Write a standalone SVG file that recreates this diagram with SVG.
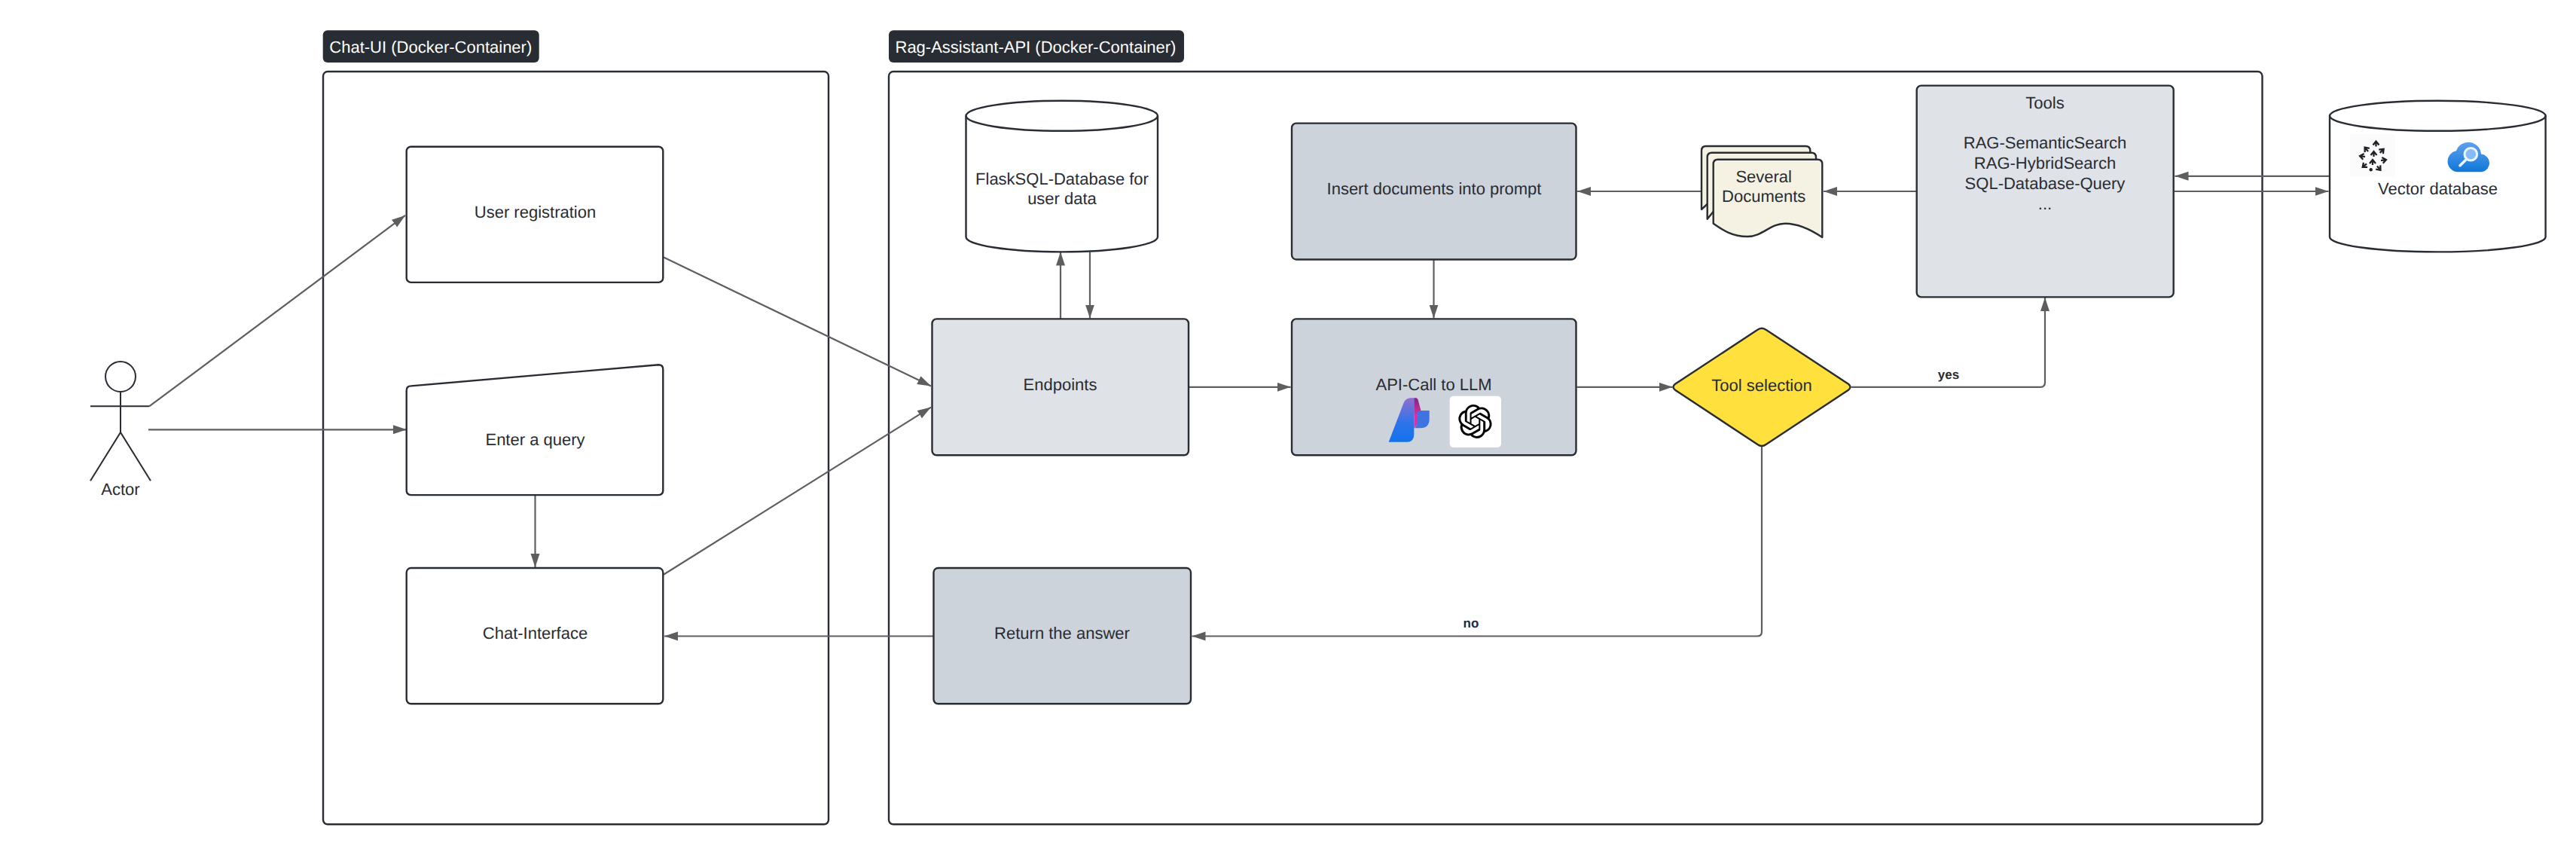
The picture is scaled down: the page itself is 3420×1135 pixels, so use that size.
<svg xmlns="http://www.w3.org/2000/svg" width="3420" height="1135" viewBox="0 0 3420 1135">
<defs>
<style>
text{font-family:"Liberation Sans",Arial,sans-serif;font-size:22px;fill:#282c33;text-anchor:middle;text-rendering:geometricPrecision}
.n{stroke:#282c33;stroke-width:2.4;fill:#fff;stroke-linejoin:round}
.dk{fill:#cdd3db}
.lt{fill:#dfe2e7}
.doc{fill:#f5f2e3}
.c{fill:none;stroke:#5e5e5e;stroke-width:2.2;marker-end:url(#a)}
.bold{font-weight:700;font-size:17px}
.lab{fill:#fff;text-anchor:start}
.stick{fill:none;stroke:#282c33;stroke-width:2}
.pc{fill:none;stroke:#1f2126;stroke-width:2.3}
</style>
<marker id="a" markerUnits="userSpaceOnUse" markerWidth="19" markerHeight="13" refX="18" refY="6" orient="auto"><path d="M0 0L18 6L0 12Z" fill="#5e5e5e"/></marker>
<linearGradient id="g1" x1="0" y1="0" x2="0" y2="1"><stop offset="0" stop-color="#8f6fd2"/><stop offset=".55" stop-color="#2f74e8"/><stop offset="1" stop-color="#1372ec"/></linearGradient>
<linearGradient id="g2" x1="0" y1="0" x2="0" y2="1"><stop offset="0" stop-color="#7a2a86"/><stop offset=".6" stop-color="#e32e9f"/></linearGradient>
<linearGradient id="g3" x1="0" y1="0" x2="0" y2="1"><stop offset="0" stop-color="#5f9ff0"/><stop offset="1" stop-color="#0f78d6"/></linearGradient>
</defs>
<rect width="3420" height="1135" fill="#fff"/>
<g id="container-chat-ui">
<rect class="n" x="429" y="95" width="671" height="999.300" rx="6"/>
<rect x="428.700" y="40.300" width="287" height="42.700" rx="6" fill="#282c33"/>
<text class="lab" x="437.300" y="69.500">Chat-UI (Docker-Container)</text>
</g>
<g id="container-rag-api">
<rect class="n" x="1180" y="95" width="1823.500" height="999.300" rx="6"/>
<rect x="1180" y="40.300" width="392" height="42.700" rx="6" fill="#282c33"/>
<text class="lab" x="1188.500" y="69.500">Rag-Assistant-API (Docker-Container)</text>
</g>
<g id="connectors">
<path class="c" d="M198.500 539.200L538 285.900"/>
<path class="c" d="M197 570.300H540"/>
<path class="c" d="M710.500 657V753"/>
<path class="c" d="M881 341.600L1236 512.400"/>
<path class="c" d="M881 762.800L1236 540.600"/>
<path class="c" d="M1240 844.500H882"/>
<path class="c" d="M1408 423V334.500"/>
<path class="c" d="M1447 334.500V422.500"/>
<path class="c" d="M1579 513.800H1713.500"/>
<path class="c" d="M1903.500 344.500V422.500"/>
<path class="c" d="M2093.500 513.800H2220.500"/>
<path class="c" d="M2260 254H2094"/>
<path class="c" d="M2544.500 254H2421"/>
<path class="c" d="M2457.500 513.800H2709Q2715 513.800 2715 507.800V395"/>
<path class="c" d="M2339 593V838.500Q2339 844.500 2333 844.500H1582.500"/>
<path class="c" d="M2887 254H3091.500"/>
<path class="c" d="M3093 233.800H2887.500"/>
<text class="bold" x="1953" y="833">no</text>
<text class="bold" x="2587" y="502.600">yes</text>
</g>
<g id="actor">
<circle class="stick" cx="160" cy="500" r="20"/>
<path class="stick" d="M120 539.200H198.500M160 520V573.900M120 638.300L160 573.900L200 638.300"/>
<text x="160" y="656.800">Actor</text>
</g>
<g id="user-registration">
<rect class="n" x="539.700" y="194.700" width="340.600" height="180.200" rx="6"/>
<text x="710.500" y="288.600">User registration</text>
</g>
<g id="enter-query">
<path class="n" d="M539.700 518.400Q539.700 512.400 545.700 512.400L874.300 484.200Q880.300 484.200 880.300 490.200V651.100Q880.300 657.100 874.300 657.100H545.700Q539.700 657.100 539.700 651.100Z"/>
<text x="710.500" y="591.200">Enter a query</text>
</g>
<g id="chat-interface">
<rect class="n" x="539.700" y="754" width="340.600" height="180.300" rx="6"/>
<text x="710.500" y="847.800">Chat-Interface</text>
</g>
<g id="flask-db">
<path class="n" d="M1282.500 153.800A127.250 20 0 0 1 1537 153.800V314.400A127.250 20 0 0 1 1282.500 314.400Z"/>
<path class="n" d="M1282.500 153.800A127.250 20 0 0 0 1537 153.800" style="fill:none"/>
<text x="1410" y="244.800">FlaskSQL-Database for</text>
<text x="1410" y="271.200">user data</text>
</g>
<g id="endpoints">
<rect class="n lt" x="1237.500" y="423.400" width="340.500" height="180.900" rx="6"/>
<text x="1407.500" y="518">Endpoints</text>
</g>
<g id="return-answer">
<rect class="n dk" x="1239.500" y="754" width="341.500" height="180.300" rx="6"/>
<text x="1410" y="847.800">Return the answer</text>
</g>
<g id="insert-documents">
<rect class="n dk" x="1715" y="163.600" width="377.500" height="180.900" rx="6"/>
<text x="1904" y="257.800">Insert documents into prompt</text>
</g>
<g id="api-call">
<rect class="n dk" x="1715" y="423.400" width="377.500" height="180.900" rx="6"/>
<text x="1903.500" y="518">API-Call to LLM</text>
<path d="M1843.700 586.700L1863.500 535Q1866 528.300 1873 528.300H1877.300V576.700Q1877.300 586.700 1868 586.700Z" fill="url(#g1)"/>
<path d="M1877.300 528.300H1880Q1882 528.500 1883 532L1888.300 552L1878.300 568.300H1877.300Z" fill="url(#g2)"/>
<path d="M1881 551Q1881 545 1887 545H1897.700V556Q1897.700 568.300 1886 568.300H1878.300Q1881 566 1881 561Z" fill="#3f74e0"/>
<rect x="1924.700" y="525.700" width="68.300" height="68.300" rx="5" fill="#fff"/>
<path transform="translate(1936 537) scale(1.87)" fill="#000" d="M22.2819 9.8211a5.9847 5.9847 0 0 0-.5157-4.9108 6.0462 6.0462 0 0 0-6.5098-2.9A6.0651 6.0651 0 0 0 4.9807 4.1818a5.9847 5.9847 0 0 0-3.9977 2.9 6.0462 6.0462 0 0 0 .7427 7.0966 5.98 5.98 0 0 0 .511 4.9107 6.051 6.051 0 0 0 6.5146 2.9001A5.9847 5.9847 0 0 0 13.2599 24a6.0557 6.0557 0 0 0 5.7718-4.2058 5.9894 5.9894 0 0 0 3.9977-2.9001 6.0557 6.0557 0 0 0-.7475-7.0729zm-9.022 12.6081a4.4755 4.4755 0 0 1-2.8764-1.0408l.1419-.0804 4.7783-2.7582a.7948.7948 0 0 0 .3927-.6813v-6.7369l2.02 1.1686a.071.071 0 0 1 .038.052v5.5826a4.504 4.504 0 0 1-4.4945 4.4944zm-9.6607-4.1254a4.4708 4.4708 0 0 1-.5346-3.0137l.142.0852 4.783 2.7582a.7712.7712 0 0 0 .7806 0l5.8428-3.3685v2.3324a.0804.0804 0 0 1-.0332.0615L9.74 19.9502a4.4992 4.4992 0 0 1-6.1408-1.6464zM2.3408 7.8956a4.485 4.485 0 0 1 2.3655-1.9728V11.6a.7664.7664 0 0 0 .3879.6765l5.8144 3.3543-2.0201 1.1685a.0757.0757 0 0 1-.071 0l-4.8303-2.7865A4.504 4.504 0 0 1 2.3408 7.872zm16.5963 3.8558L13.1038 8.364 15.1192 7.2a.0757.0757 0 0 1 .071 0l4.8303 2.7913a4.4944 4.4944 0 0 1-.6765 8.1042v-5.6772a.79.79 0 0 0-.407-.667zm2.0107-3.0231l-.142-.0852-4.7735-2.7818a.7759.7759 0 0 0-.7854 0L9.409 9.2297V6.8974a.0662.0662 0 0 1 .0284-.0615l4.8303-2.7866a4.4992 4.4992 0 0 1 6.6802 4.66zM8.3065 12.863l-2.02-1.1638a.0804.0804 0 0 1-.038-.0567V6.0742a4.4992 4.4992 0 0 1 7.3757-3.4537l-.142.0805L8.704 5.459a.7948.7948 0 0 0-.3927.6813zm1.0976-2.3654l2.602-1.4998 2.6069 1.4998v2.9994l-2.5974 1.4997-2.6067-1.4997Z"/>
</g>
<g id="tool-selection">
<path class="n" style="fill:#ffe03d" d="M2333 438Q2339 433.500 2345 438L2454 509.800Q2459 513.800 2454 517.800L2345 589.700Q2339 594.200 2333 589.700L2224 517.800Q2219 513.800 2224 509.800Z"/>
<text x="2339" y="518.500">Tool selection</text>
</g>
<g id="several-documents">
<path class="n doc" d="M2259 278V200Q2259 194 2265 194H2397Q2403.300 194 2403.300 200V240H2300Z"/>
<path class="n doc" d="M2266.700 290.700V208.700Q2266.700 202.700 2272.700 202.700H2405Q2411 202.700 2411 208.700V250H2300Z"/>
<path class="n doc" d="M2274.700 296.700V217.700Q2274.700 211.700 2280.700 211.700H2413.300Q2419.300 211.700 2419.300 217.700V315C2400 302 2385 296.700 2370 296.700C2350 296.700 2340 314 2320 314C2300 314 2288 306 2274.700 296.700Z"/>
<text x="2341.700" y="241.700">Several</text>
<text x="2341.700" y="268.300">Documents</text>
</g>
<g id="tools">
<rect class="n lt" x="2544.700" y="113.600" width="341" height="280.800" rx="6"/>
<text x="2715" y="143.800">Tools</text>
<text x="2715" y="197">RAG-SemanticSearch</text>
<text x="2715" y="224">RAG-HybridSearch</text>
<text x="2715" y="250.800">SQL-Database-Query</text>
<text x="2715" y="277.700">...</text>
</g>
<g id="vector-db">
<path class="n" d="M3093 153.800A143.300 20 0 0 1 3379.600 153.800V314.400A143.300 20 0 0 1 3093 314.400Z"/>
<path class="n" d="M3093 153.800A143.300 20 0 0 0 3379.600 153.800" style="fill:none"/>
<text x="3236.500" y="257.800">Vector database</text>
<rect x="3120" y="178" width="60" height="57" fill="#fbfbfb"/>
<g class="pc">
<path transform="translate(3154.500 190.500)" d="M-4 2L0 -3L4 2M0 -3V4"/>
<path transform="translate(3141.500 198) rotate(-40)" d="M-4 2L0 -3L4 2M0 -3V4"/>
<path transform="translate(3162.500 200) rotate(45)" d="M-4 2L0 -3L4 2M0 -3V4"/>
<path transform="translate(3151.500 204)" d="M-4 2L0 -3L4 2M0 -3V4"/>
<path transform="translate(3136 207.500) rotate(-80)" d="M-4 2L0 -3L4 2M0 -3V4"/>
<path transform="translate(3165 212.500) rotate(80)" d="M-4 2L0 -3L4 2M0 -3V4"/>
<path transform="translate(3150 215)" d="M-4 2L0 -3L4 2M0 -3V4"/>
<path transform="translate(3139 220) rotate(-130)" d="M-4 2L0 -3L4 2M0 -3V4"/>
<path transform="translate(3158.500 223.500) rotate(140)" d="M-4 2L0 -3L4 2M0 -3V4"/>
</g>
<circle cx="3147.700" cy="225.300" r="2.200" fill="#1f2126"/>
<path d="M3263 228.300A14.200 14.200 0 0 1 3261 200.200A17 17 0 0 1 3294 204.500A12 12 0 0 1 3295 228.300Z" fill="url(#g3)"/>
<circle cx="3280.300" cy="204.700" r="8.300" fill="#86baf9" stroke="#eef4fb" stroke-width="3"/>
<path d="M3273.700 212.300L3266 219.800" stroke="#eef4fb" stroke-width="3.600" stroke-linecap="round"/>
</g>
</svg>
